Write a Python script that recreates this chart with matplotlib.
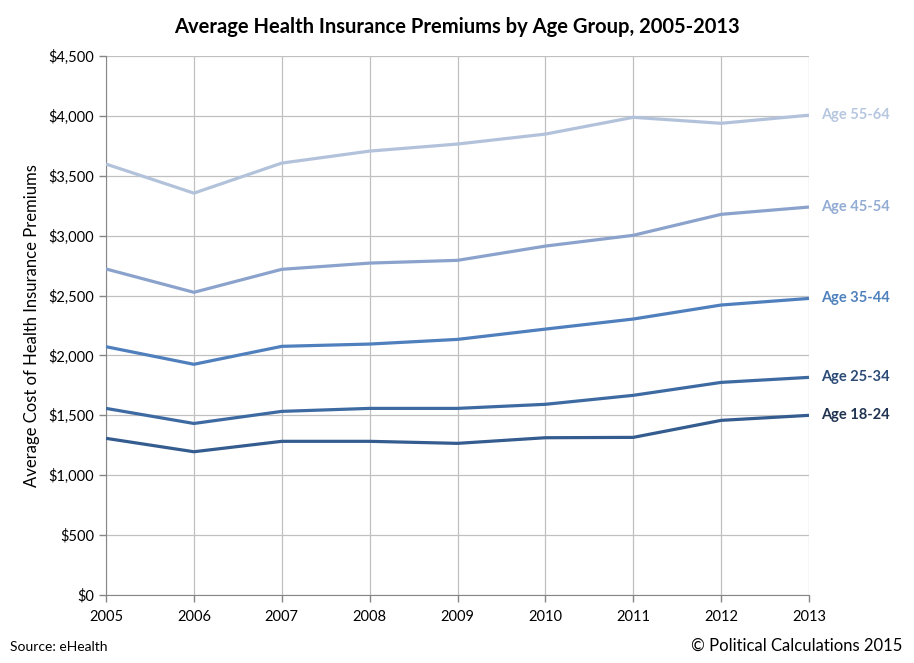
import matplotlib
matplotlib.use('Agg')
import matplotlib.pyplot as plt
from matplotlib.ticker import FuncFormatter

plt.rcParams['font.family'] = ['Lato', 'DejaVu Sans']

years = [2005, 2006, 2007, 2008, 2009, 2010, 2011, 2012, 2013]
age_55_64 = [3598, 3355, 3606, 3706, 3765, 3848, 3988, 3938, 4006]
age_45_54 = [2722, 2527, 2719, 2771, 2794, 2913, 3003, 3178, 3239]
age_35_44 = [2073, 1926, 2076, 2095, 2134, 2220, 2304, 2421, 2476]
age_25_34 = [1558, 1432, 1533, 1558, 1558, 1592, 1667, 1775, 1817]
age_18_24 = [1308, 1196, 1283, 1283, 1266, 1313, 1316, 1458, 1500]

series = [
    ('Age 55-64', age_55_64, '#b3c2db', '#b7c7e0'),
    ('Age 45-54', age_45_54, '#8ba3cc', '#93acd4'),
    ('Age 35-44', age_35_44, '#4f7fbc', '#4f81bd'),
    ('Age 25-34', age_25_34, '#3e6aa2', '#2b4a75'),
    ('Age 18-24', age_18_24, '#345c8f', '#1f3250'),
]

fig = plt.figure(figsize=(9.14, 6.63), dpi=100)
ax = fig.add_axes([106/914, 68/663, 703/914, 539/663])

for name, vals, lc, tc in series:
    ax.plot(years, vals, color=lc, lw=2.3, solid_capstyle='butt', zorder=3)
    ax.annotate(name, xy=(years[-1], vals[-1]), xytext=(9, 0),
                textcoords='offset points', va='center', ha='left',
                color=tc, fontsize=10.5, fontweight='bold', annotation_clip=False)

ax.set_xlim(2005, 2013)
ax.set_ylim(0, 4500)
ax.set_xticks(years)
ax.set_yticks(range(0, 4501, 500))
ax.yaxis.set_major_formatter(FuncFormatter(lambda v, p: '${:,.0f}'.format(v)))
ax.grid(True, color='#c0c0c0', lw=0.9)
ax.set_axisbelow(True)
for s in ['top', 'right']:
    ax.spines[s].set_visible(False)
ax.spines['left'].set_color('#868686')
ax.spines['bottom'].set_color('#868686')
ax.tick_params(axis='both', colors='#868686', labelcolor='black', labelsize=10.5,
               length=5, width=1)
ax.tick_params(axis='x', pad=6)

ax.set_ylabel('Average Cost of Health Insurance Premiums', fontsize=12, labelpad=6)
fig.text(0.5, 1 - 27/663, 'Average Health Insurance Premiums by Age Group, 2005-2013',
         ha='center', va='center', fontsize=14.5, fontweight='bold')
fig.text(10/914, 1 - 647/663, 'Source: eHealth', ha='left', va='center', fontsize=10)
fig.text(902/914, 1 - 646/663, '\u00a9 Political Calculations 2015', ha='right',
         va='center', fontsize=12)

fig.savefig('out.png', dpi=100)
